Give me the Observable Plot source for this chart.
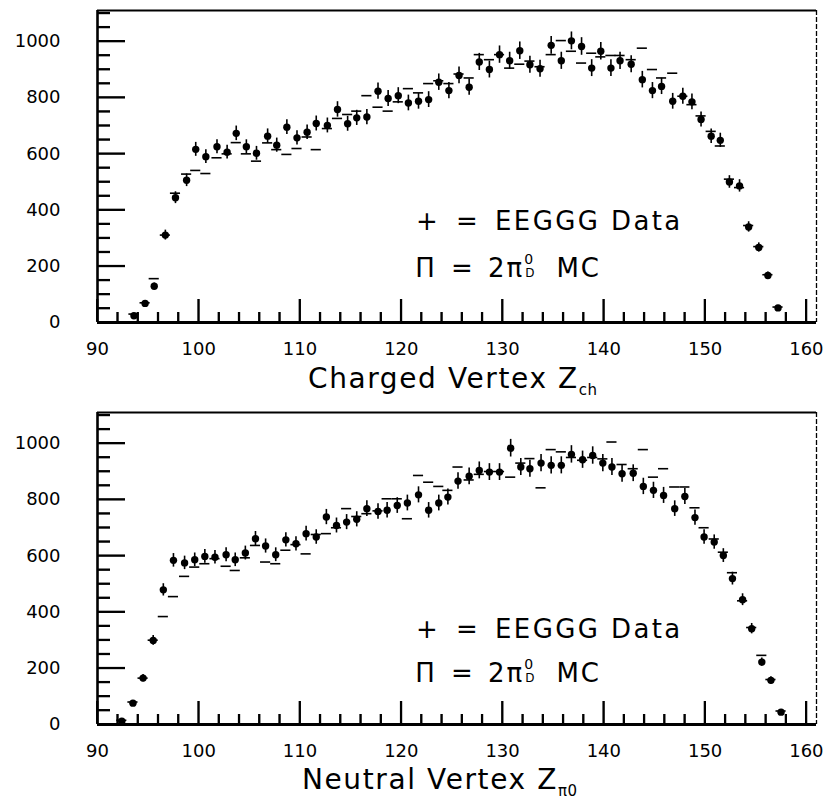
<!DOCTYPE html>
<html>
<head>
<meta charset="utf-8">
<script src="https://cdn.jsdelivr.net/npm/d3@7"></script>
<script src="https://cdn.jsdelivr.net/npm/@observablehq/plot@0.6"></script>
<style>
  html, body { margin: 0; padding: 0; background: #fff; }
  #chart svg { display: block; }
</style>
</head>
<body>
<div id="chart"></div>
<script>
// ---------- Data ----------
// Charged vertex panel
const xTop = [93.6,94.7,95.6,96.7,97.7,98.8,99.7,100.7,101.8,102.8,103.7,104.7,105.7,106.8,107.7,108.7,109.7,110.7,111.6,112.7,113.7,
  114.7,115.6,116.6,117.7,118.7,119.7,120.7,121.7,122.7,123.7,124.7,125.7,126.7,127.7,128.7,129.7,130.7,131.7,132.7,133.7,
  134.8,135.8,136.8,137.8,138.8,139.7,140.7,141.6,142.7,143.8,144.8,145.7,146.8,147.8,148.7,149.6,150.6,151.5,152.4,153.4,154.3,155.3,156.2,157.2];
const dataTop = [24,68,129,311,444,506,616,590,625,606,
  673,625,602,663,631,695,657,677,708,701,
  758,707,728,731,823,797,807,781,787,793,
  855,825,879,837,927,900,953,931,967,917,
  903,986,931,1002,982,905,965,905,931,919,
  864,825,840,787,805,785,722,663,648,500,
  486,340,267,167,52];
const mcTop = [30,70,156,311,460,528,541,530,586,600,
  640,600,574,639,615,598,619,660,615,690,
  726,740,752,807,766,752,785,832,817,850,
  860,850,884,870,953,935,953,905,919,930,
  910,953,1003,965,923,958,945,950,950,935,
  976,900,870,887,805,775,735,680,628,510,
  480,345,270,170,55];

// Neutral vertex panel
const xBot = [92.4,93.5,94.5,95.5,96.5,97.5,98.6,99.6,100.6,101.6,
  102.7,103.6,104.6,105.6,106.6,107.6,108.6,109.6,110.6,111.6,
  112.6,113.6,114.6,115.6,116.6,117.7,118.6,119.6,120.6,121.7,
  122.7,123.7,124.6,125.6,126.7,127.7,128.7,129.7,130.8,131.8,
  132.7,133.8,134.8,135.8,136.8,137.9,138.9,139.9,140.8,141.8,
  142.9,143.9,144.9,145.9,147.0,148.0,149.0,149.9,150.9,151.8,
  152.7,153.7,154.6,155.6,156.5,157.5];
const dataBot = [12,76,165,299,479,584,575,586,598,595,
  604,586,610,661,635,604,657,643,679,667,
  738,708,720,730,768,758,762,779,788,817,
  762,788,809,866,883,904,898,898,983,916,
  910,930,922,922,961,942,957,930,916,892,
  894,847,833,815,768,811,736,667,649,601,
  519,444,341,222,157,44];
const mcBot = [15,80,165,300,384,455,527,560,572,590,
  563,548,593,637,578,572,620,640,607,676,
  679,700,768,740,750,760,803,803,732,886,
  862,847,833,916,870,890,900,900,880,930,
  946,842,978,970,950,940,950,945,1005,925,
  910,978,880,910,845,845,771,700,660,613,
  540,440,345,246,160,48];

// Axes
const xLabels = [90,100,110,120,130,140,150,160];
const xMinor = [92,94,96,98,102,104,106,108,112,114,116,118,122,124,126,128,132,134,136,138,142,144,146,148,152,154,156,158];
const yLabels = [0,200,400,600,800,1000];
const yMinor = [50,100,150,250,300,350,450,500,550,650,700,750,850,900,950,1050,1100];

const FONT = "'DejaVu Sans', sans-serif";
const X0 = 90, X1 = 161, Y0 = 0, Y1 = 1110;
const W = 825, ML = 97, MR = 9, PH = 312;

function panel(xs, data, mc, o) {
  const rows = xs.map((x, i) => ({x, y: data[i], mc: mc[i]}));
  const ky = (Y1 - Y0) / PH;                 // data units per pixel (y)
  const kx = (X1 - X0) / (W - ML - MR);      // data units per pixel (x)
  const xTicks = xMinor.map(v => ({xa: v, ya: Y0 + 0.5 * ky, yb: Y0 + 10 * ky}))
    .concat(xLabels.map(v => ({xa: v, ya: Y0 + 0.5 * ky, yb: Y0 + 23 * ky})));
  const yTicks = yMinor.map(v => ({ya: v, xa: X0, xb: X0 + 13 * kx}))
    .concat(yLabels.map(v => ({ya: v, xa: X0, xb: X0 + 28 * kx})));
  const plot = Plot.plot({
    width: W, height: o.mt + PH + o.mb,
    marginTop: o.mt, marginBottom: o.mb, marginLeft: ML, marginRight: MR,
    x: {domain: [X0, X1], axis: null},
    y: {domain: [Y0, Y1], axis: null},
    style: {fontFamily: FONT, fontSize: "18px", background: "#fff", color: "#000"},
    marks: [
      // MC histogram
      Plot.ruleY(rows, {x1: d => d.x - 0.5, x2: d => d.x + 0.5, y: "mc", stroke: "#000", strokeWidth: 1.6}),
      // data error bars and points
      Plot.ruleX(rows, {x: "x", y1: d => d.y - Math.sqrt(d.y), y2: d => d.y + Math.sqrt(d.y), stroke: "#000", strokeWidth: 1.6}),
      Plot.dot(rows, {x: "x", y: "y", r: 3.7, fill: "#000", stroke: "none"}),
      // inward ticks (same channel pattern as the error bars, which render)
      Plot.ruleX(xTicks, {x: "xa", y1: "ya", y2: "yb", stroke: "#000", strokeWidth: 1.8}),
      Plot.ruleY(yTicks, {y: "ya", x1: "xa", x2: "xb", stroke: "#000", strokeWidth: 1.8}),
      // frame
      Plot.ruleY([Y1], {stroke: "#000", strokeWidth: 2}),
      Plot.ruleX([X1], {stroke: "#000", strokeWidth: 1.3, strokeDasharray: "5,2"}),
      Plot.ruleX([X0], {stroke: "#000", strokeWidth: 2.6}),
      Plot.ruleY([Y0], {stroke: "#000", strokeWidth: 3}),
      // tick labels
      Plot.axisX({ticks: xLabels, tickSize: 0, tickPadding: 20, tickFormat: d => String(d), fontSize: 18, label: null}),
      Plot.axisY({ticks: yLabels, tickSize: 0, tickPadding: 37, tickFormat: d => String(d), fontSize: 18, label: null})
    ]
  });

  const svg = d3.select(plot);
  // Reinforce the inward ticks through Plot's own scales
  const sx = plot.scale("x"), sy = plot.scale("y");
  const tg = svg.append("g").attr("stroke", "#000").attr("stroke-width", 1.8);
  xTicks.forEach(d => tg.append("line")
    .attr("x1", sx.apply(d.xa)).attr("x2", sx.apply(d.xa))
    .attr("y1", sy.apply(d.ya)).attr("y2", sy.apply(d.yb)));
  yTicks.forEach(d => tg.append("line")
    .attr("x1", sx.apply(d.xa)).attr("x2", sx.apply(d.xb))
    .attr("y1", sy.apply(d.ya)).attr("y2", sy.apply(d.ya)));

  const txt = (x, y, s, size, anchor = "start", ls = 0) =>
    svg.append("text").attr("x", x).attr("y", y).attr("font-family", FONT)
      .attr("font-size", size).attr("text-anchor", anchor).attr("letter-spacing", ls)
      .attr("fill", "#000").text(s);

  // axis title with subscript
  const t = svg.append("text").attr("x", o.titleX).attr("y", o.titleY).attr("text-anchor", "start")
    .attr("font-family", FONT).attr("font-size", 28).attr("letter-spacing", 1.6).attr("fill", "#000");
  t.append("tspan").text(o.title);
  t.append("tspan").attr("font-size", 15).attr("dy", 7).attr("letter-spacing", 0.5).text(o.sub);

  // legend
  const b1 = o.leg1, b2 = o.leg2;
  txt(427, b1, "+", 26, "middle");
  txt(467, b1, "=", 26, "middle");
  txt(495, b1, "EEGGG Data", 26, "start", 2.4);
  txt(425, b2, "\u03A0", 26, "middle");
  txt(462, b2, "=", 26, "middle");
  const m = txt(488, b2, "", 26, "start", 0);
  m.append("tspan").attr("letter-spacing", 2).text("2\u03C0");
  m.append("tspan").attr("font-size", 14).attr("dy", -13).text("0");
  m.append("tspan").attr("font-size", 12).attr("dx", -8).attr("dy", 13).text("D");
  m.append("tspan").attr("dx", 22).attr("letter-spacing", 2).text("MC");
  return plot;
}

const root = document.getElementById("chart");
root.appendChild(panel(xTop, dataTop, mcTop, {
  mt: 10, mb: 78, title: "Charged Vertex Z", sub: "ch", titleX: 308, titleY: 388, leg1: 230, leg2: 277
}));
root.appendChild(panel(xBot, dataBot, mcBot, {
  mt: 12, mb: 76, title: "Neutral Vertex Z", sub: "\u03C00", titleX: 302, titleY: 389, leg1: 238, leg2: 282
}));
</script>
</body>
</html>
